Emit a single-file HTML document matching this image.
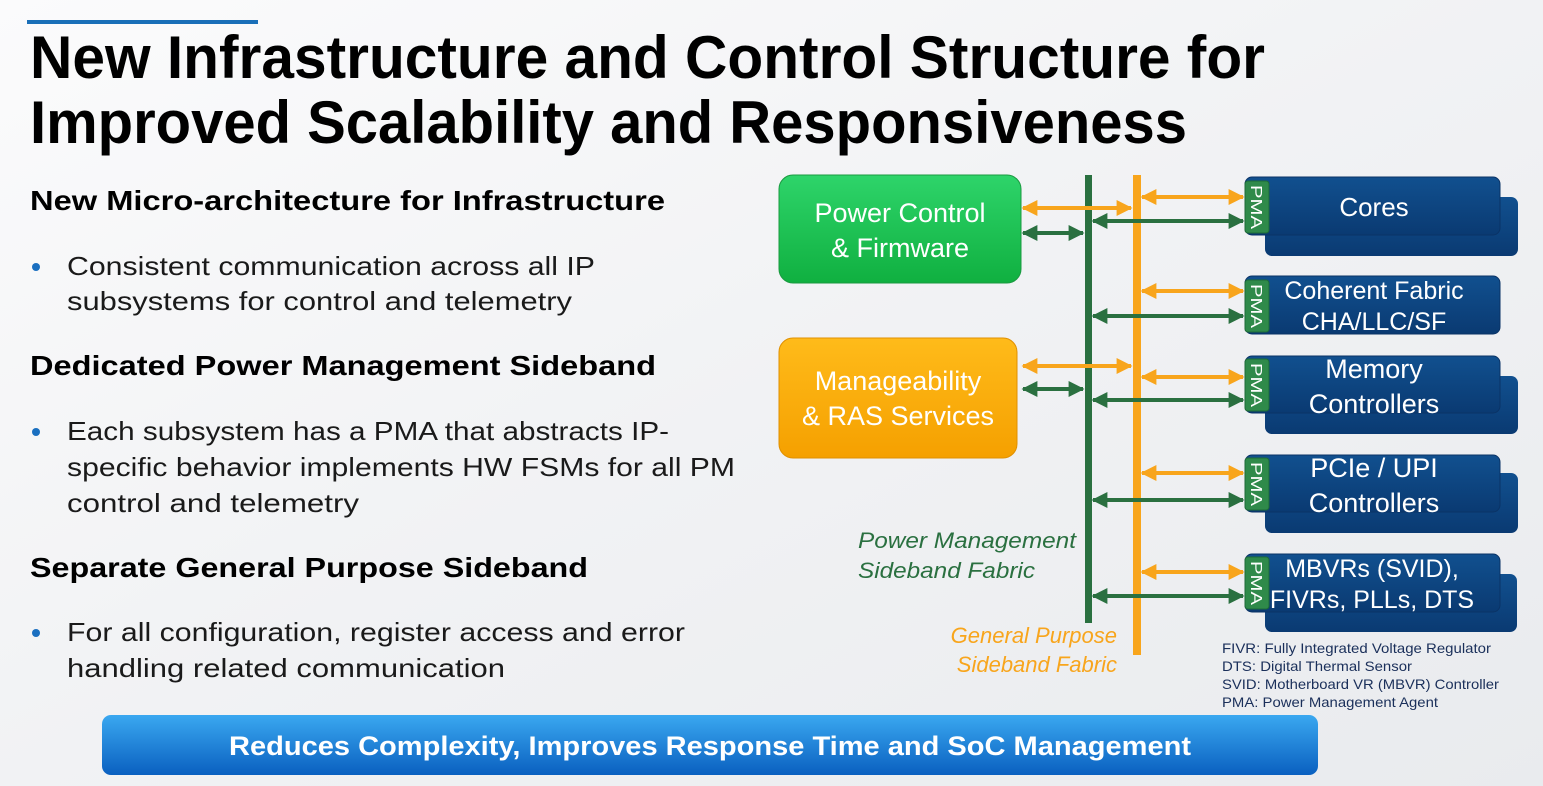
<!DOCTYPE html>
<html><head><meta charset="utf-8"><style>
html,body{margin:0;padding:0;width:1543px;height:786px;overflow:hidden;background:#f3f4f6}
svg{display:block}
text{font-family:"Liberation Sans",sans-serif}
</style></head><body>
<svg width="1543" height="786" viewBox="0 0 1543 786" xmlns="http://www.w3.org/2000/svg">
<defs>
<linearGradient id="bg" x1="0" y1="0" x2="1" y2="1">
<stop offset="0" stop-color="#fbfbfc"/><stop offset="0.5" stop-color="#f1f2f4"/><stop offset="1" stop-color="#e9ebee"/>
</linearGradient>
<linearGradient id="gr" x1="0" y1="0" x2="0" y2="1"><stop offset="0" stop-color="#2ed46a"/><stop offset="1" stop-color="#10b040"/></linearGradient>
<linearGradient id="or" x1="0" y1="0" x2="0" y2="1"><stop offset="0" stop-color="#ffbb1a"/><stop offset="1" stop-color="#f5a000"/></linearGradient>
<linearGradient id="bl" x1="0" y1="0" x2="0" y2="1"><stop offset="0" stop-color="#11508f"/><stop offset="1" stop-color="#0a3a72"/></linearGradient>
<linearGradient id="bar" x1="0" y1="0" x2="0" y2="1"><stop offset="0" stop-color="#3aa8f0"/><stop offset="1" stop-color="#0a60c0"/></linearGradient>
<marker id="ao" viewBox="0 0 10 10" refX="9" refY="5" markerWidth="4" markerHeight="4" orient="auto-start-reverse"><path d="M0,0L10,5L0,10z" fill="#f8a51c"/></marker>
<marker id="ag" viewBox="0 0 10 10" refX="9" refY="5" markerWidth="4" markerHeight="4" orient="auto-start-reverse"><path d="M0,0L10,5L0,10z" fill="#2a7040"/></marker>
</defs>
<rect width="1543" height="786" fill="url(#bg)"/>
<rect x="27" y="20" width="231" height="4" fill="#1a6fb8"/>
<g font-weight="bold" fill="#000">
<text x="30" y="78" font-size="60" textLength="1235" lengthAdjust="spacingAndGlyphs">New Infrastructure and Control Structure for</text>
<text x="30" y="143" font-size="60" textLength="1157" lengthAdjust="spacingAndGlyphs">Improved Scalability and Responsiveness</text>
<text x="30" y="210" font-size="28" textLength="635" lengthAdjust="spacingAndGlyphs">New Micro-architecture for Infrastructure</text>
<text x="30" y="375" font-size="28" textLength="626" lengthAdjust="spacingAndGlyphs">Dedicated Power Management Sideband</text>
<text x="30" y="577" font-size="28" textLength="558" lengthAdjust="spacingAndGlyphs">Separate General Purpose Sideband</text>
</g>
<g fill="#1a1a1a" font-size="26">
<text x="67" y="275" textLength="528" lengthAdjust="spacingAndGlyphs">Consistent communication across all IP</text>
<text x="67" y="310" textLength="505" lengthAdjust="spacingAndGlyphs">subsystems for control and telemetry</text>
<text x="67" y="440" textLength="602" lengthAdjust="spacingAndGlyphs">Each subsystem has a PMA that abstracts IP-</text>
<text x="67" y="476" textLength="668" lengthAdjust="spacingAndGlyphs">specific behavior implements HW FSMs for all PM</text>
<text x="67" y="512" textLength="292" lengthAdjust="spacingAndGlyphs">control and telemetry</text>
<text x="67" y="641" textLength="618" lengthAdjust="spacingAndGlyphs">For all configuration, register access and error</text>
<text x="67" y="677" textLength="438" lengthAdjust="spacingAndGlyphs">handling related communication</text>
</g>
<g fill="#1a6fc0"><circle cx="36" cy="267" r="4"/><circle cx="36" cy="432" r="4"/><circle cx="36" cy="633" r="4"/></g>

<rect x="779" y="175" width="242" height="108" rx="14" fill="url(#gr)" stroke="#1a9a40"/>
<text x="900" y="222" font-size="27" fill="#fff" text-anchor="middle">Power Control</text>
<text x="900" y="257" font-size="27" fill="#fff" text-anchor="middle">&amp; Firmware</text>
<rect x="779" y="338" width="238" height="120" rx="14" fill="url(#or)" stroke="#e09000"/>
<text x="898" y="390" font-size="27" fill="#fff" text-anchor="middle">Manageability</text>
<text x="898" y="425" font-size="27" fill="#fff" text-anchor="middle">&amp; RAS Services</text>

<rect x="1085" y="175" width="7" height="448" fill="#2a7040"/>
<rect x="1133" y="175" width="8" height="480" fill="#f8a51c"/>

<g>
<rect x="1265" y="197" width="253" height="59" rx="7" fill="url(#bl)"/>
<rect x="1245" y="177" width="255" height="58" rx="7" fill="url(#bl)" stroke="#0a3366"/>
<text x="1374" y="216" font-size="26" fill="#fff" text-anchor="middle">Cores</text>
<rect x="1245" y="276" width="255" height="58" rx="7" fill="url(#bl)" stroke="#0a3366"/>
<text x="1374" y="299" font-size="25" fill="#fff" text-anchor="middle">Coherent Fabric</text>
<text x="1374" y="330" font-size="25" fill="#fff" text-anchor="middle">CHA/LLC/SF</text>
<rect x="1265" y="376" width="253" height="58" rx="7" fill="url(#bl)"/>
<rect x="1245" y="356" width="255" height="57" rx="7" fill="url(#bl)" stroke="#0a3366"/>
<text x="1374" y="378" font-size="27" fill="#fff" text-anchor="middle">Memory</text>
<text x="1374" y="413" font-size="27" fill="#fff" text-anchor="middle">Controllers</text>
<rect x="1265" y="473" width="253" height="60" rx="7" fill="url(#bl)"/>
<rect x="1245" y="455" width="255" height="57" rx="7" fill="url(#bl)" stroke="#0a3366"/>
<text x="1374" y="477" font-size="27" fill="#fff" text-anchor="middle">PCIe / UPI</text>
<text x="1374" y="512" font-size="27" fill="#fff" text-anchor="middle">Controllers</text>
<rect x="1265" y="574" width="252" height="58" rx="7" fill="url(#bl)"/>
<rect x="1245" y="554" width="255" height="58" rx="7" fill="url(#bl)" stroke="#0a3366"/>
<text x="1372" y="577" font-size="25" fill="#fff" text-anchor="middle">MBVRs (SVID),</text>
<text x="1372" y="608" font-size="25" fill="#fff" text-anchor="middle">FIVRs, PLLs, DTS</text>
</g>
<g fill="#2f8a4a" stroke="#1e6a38">
<rect x="1245" y="181" width="24" height="52" rx="3"/>
<rect x="1245" y="280" width="24" height="52" rx="3"/>
<rect x="1245" y="359" width="24" height="52" rx="3"/>
<rect x="1245" y="458" width="24" height="52" rx="3"/>
<rect x="1245" y="557" width="24" height="52" rx="3"/>
</g>
<g fill="#fff" font-size="16">
<text transform="translate(1251,185) rotate(90)" textLength="44" lengthAdjust="spacingAndGlyphs">PMA</text>
<text transform="translate(1251,284) rotate(90)" textLength="44" lengthAdjust="spacingAndGlyphs">PMA</text>
<text transform="translate(1251,363) rotate(90)" textLength="44" lengthAdjust="spacingAndGlyphs">PMA</text>
<text transform="translate(1251,462) rotate(90)" textLength="44" lengthAdjust="spacingAndGlyphs">PMA</text>
<text transform="translate(1251,561) rotate(90)" textLength="44" lengthAdjust="spacingAndGlyphs">PMA</text>
</g>

<g stroke="#f8a51c" stroke-width="4" marker-start="url(#ao)" marker-end="url(#ao)">
<line x1="1023" y1="208" x2="1131" y2="208"/>
<line x1="1023" y1="366" x2="1131" y2="366"/>
<line x1="1142" y1="197" x2="1243" y2="197"/>
<line x1="1142" y1="291" x2="1243" y2="291"/>
<line x1="1142" y1="377" x2="1243" y2="377"/>
<line x1="1142" y1="473" x2="1243" y2="473"/>
<line x1="1142" y1="572" x2="1243" y2="572"/>
</g>
<g stroke="#2a7040" stroke-width="4" marker-start="url(#ag)" marker-end="url(#ag)">
<line x1="1023" y1="233" x2="1083" y2="233"/>
<line x1="1023" y1="389" x2="1083" y2="389"/>
<line x1="1093" y1="221" x2="1243" y2="221"/>
<line x1="1093" y1="316" x2="1243" y2="316"/>
<line x1="1093" y1="400" x2="1243" y2="400"/>
<line x1="1093" y1="500" x2="1243" y2="500"/>
<line x1="1093" y1="596" x2="1243" y2="596"/>
</g>

<g font-style="italic" font-size="22">
<text x="858" y="548" fill="#2a7040" textLength="218" lengthAdjust="spacingAndGlyphs">Power Management</text>
<text x="858" y="578" fill="#2a7040" textLength="177" lengthAdjust="spacingAndGlyphs">Sideband Fabric</text>
<text x="1117" y="643" fill="#f8a51c" text-anchor="end">General Purpose</text>
<text x="1117" y="672" fill="#f8a51c" text-anchor="end">Sideband Fabric</text>
</g>
<g font-size="14" fill="#1a2f5a">
<text x="1222" y="653" textLength="269" lengthAdjust="spacingAndGlyphs">FIVR: Fully Integrated Voltage Regulator</text>
<text x="1222" y="671" textLength="190" lengthAdjust="spacingAndGlyphs">DTS: Digital Thermal Sensor</text>
<text x="1222" y="689" textLength="277" lengthAdjust="spacingAndGlyphs">SVID: Motherboard VR (MBVR) Controller</text>
<text x="1222" y="707" textLength="216" lengthAdjust="spacingAndGlyphs">PMA: Power Management Agent</text>
</g>

<rect x="102" y="715" width="1216" height="60" rx="9" fill="url(#bar)"/>
<text x="710" y="755" font-size="27" font-weight="bold" fill="#fff" text-anchor="middle" textLength="962" lengthAdjust="spacingAndGlyphs">Reduces Complexity, Improves Response Time and SoC Management</text>
</svg>
</body></html>
